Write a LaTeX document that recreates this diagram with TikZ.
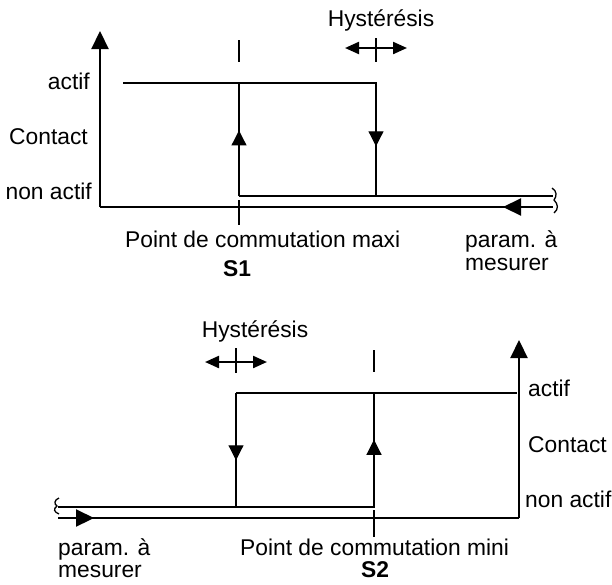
\documentclass[tikz,border=0pt]{standalone}
\usepackage{fontspec}
\setmainfont{Liberation Sans}
\usepackage{tikz}
\usetikzlibrary{calc, positioning, arrows.meta}

\tikzset{
  lbl/.style={font=\fontsize{22.8}{27}\selectfont, inner sep=0pt},
  axis/.style={line width=2.2pt},
  curve/.style={line width=1.1pt},
  tip/.style={-{Triangle[length=15pt, width=15pt]}},
  bigtip/.style={-{Triangle[length=18pt, width=17pt]}},
  hyst/.style={line width=2.2pt, {Triangle[length=14pt, width=12pt]}-{Triangle[length=14pt, width=12pt]}},
}

\begin{document}
\begin{tikzpicture}[x=1pt, y=-1pt]
  \useasboundingbox (0,0) rectangle (612,584);

  % ---------- upper diagram: maxi switch point S1 ----------
  \coordinate (o1) at (100,207);
  \coordinate (ytop1) at (100,31);
  \coordinate (xend1) at (553,207);
  \coordinate (xtip1) at (503,207);
  \coordinate (hi1a) at (123,83);
  \coordinate (hi1b) at (376,83);
  \coordinate (lo1a) at (239,196);
  \coordinate (lo1b) at (376,196);
  \coordinate (lo1c) at (553,196);
  \coordinate (s1up) at ($(lo1a)!0.58!(lo1a |- hi1a)$);
  \coordinate (s1dn) at ($(hi1b)!0.56!(lo1b)$);

  % Draw axes
  \draw[axis] (o1) -- (xend1);
  \draw[axis, bigtip] (o1) -- (ytop1);
  \draw[axis, bigtip] (xend1) -- (xtip1);
  \draw[line width=1.3pt] (552,188) .. controls (557,191) and (557,196) .. (554,200)
               .. controls (558,204) and (559,209) .. (554,213);

  % Switching loop
  \draw[curve] (hi1a) -- (hi1b) -- (lo1b);
  \draw[curve] (lo1a) -- (lo1c);
  \draw[curve] (lo1a) -- (lo1a |- hi1a);
  \draw[curve, tip] (lo1a) -- (s1up);
  \draw[curve, tip] (hi1b) -- (s1dn);

  % Switch point marks and hysteresis
  \draw[curve] (239,40) -- (239,62);
  \draw[curve] (239,200) -- (239,225);
  \draw[hyst] (345,48) -- (407,48);
  \draw[curve] (376,38) -- (376,62);

  % Labels
  \node[lbl, anchor=base east] (act1) at (90,89) {actif};
  \node[lbl, anchor=base east] (cont1) at (88,144) {Contact};
  \node[lbl, anchor=base east] (non1) at (92,199) {non actif};
  \node[lbl, anchor=base] (hys1) at (381,26) {Hystérésis};
  \node[lbl, anchor=base west] (pt1) at (125,247) {Point de commutation maxi};
  \node[lbl, anchor=base, font=\fontsize{22.8}{27}\selectfont\bfseries] (s1) at (237,276) {S1};
  \node[lbl, anchor=base west] (par1) at (465,247) {param. à};
  \node[lbl, anchor=base west] (mes1) at (465,270) {mesurer};

  % ---------- lower diagram: mini switch point S2 ----------
  \coordinate (o2) at (519,518);
  \coordinate (ytop2) at (519,340);
  \coordinate (xend2) at (58,518);
  \coordinate (xtip2) at (94,518);
  \coordinate (hi2a) at (236,393);
  \coordinate (hi2b) at (374,393);
  \coordinate (hi2c) at (517,393);
  \coordinate (lo2a) at (58,507);
  \coordinate (lo2b) at (236,507);
  \coordinate (lo2c) at (374,507);
  \coordinate (s2up) at ($(lo2c)!0.59!(hi2b)$);
  \coordinate (s2dn) at ($(hi2a)!0.59!(lo2b)$);

  % Draw axes
  \draw[axis] (xend2) -- (o2);
  \draw[axis, bigtip] (o2) -- (ytop2);
  \draw[axis, bigtip] (xend2) -- (xtip2);
  \draw[line width=1.3pt] (59,498) .. controls (54,500) and (54,504) .. (57,506)
               .. controls (53,509) and (54,512) .. (59,514);

  % Switching loop
  \draw[curve] (hi2a) -- (hi2c);
  \draw[curve] (lo2a) -- (lo2c) -- (hi2b);
  \draw[curve] (hi2a) -- (lo2b);
  \draw[curve, tip] (lo2c) -- (s2up);
  \draw[curve, tip] (hi2a) -- (s2dn);

  % Switch point marks and hysteresis
  \draw[curve] (374,350) -- (374,372);
  \draw[curve] (374,510) -- (374,537);
  \draw[hyst] (205,362) -- (267,362);
  \draw[curve] (236,348) -- (236,373);

  % Labels
  \node[lbl, anchor=base west] (act2) at (528,396) {actif};
  \node[lbl, anchor=base west] (cont2) at (528,452) {Contact};
  \node[lbl, anchor=base west] (non2) at (525,507) {non actif};
  \node[lbl, anchor=base] (hys2) at (255,337) {Hystérésis};
  \node[lbl, anchor=base west] (pt2) at (240,555) {Point de commutation mini};
  \node[lbl, anchor=base, font=\fontsize{22.8}{27}\selectfont\bfseries] (s2) at (375,577) {S2};
  \node[lbl, anchor=base west] (par2) at (58,555) {param. à};
  \node[lbl, anchor=base west] (mes2) at (58,577) {mesurer};
\end{tikzpicture}
\end{document}
